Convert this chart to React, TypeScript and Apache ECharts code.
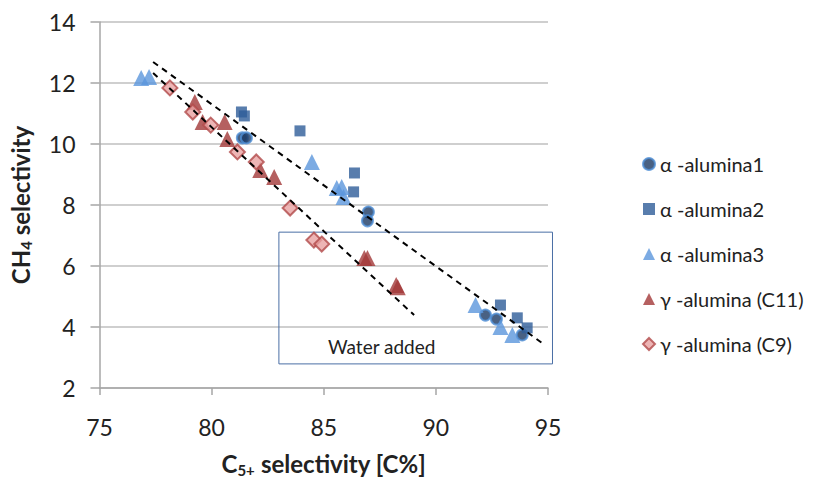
import React, { useEffect, useRef } from "react";
import * as echarts from "echarts";

const alpha1: number[][] = [
  [81.37, 10.2], [81.55, 10.2], [86.99, 7.77], [86.95, 7.48],
  [92.21, 4.39], [92.7, 4.26], [93.85, 3.74],
];
const alpha2: number[][] = [
  [81.33, 11.05], [81.46, 10.92], [83.94, 10.43], [86.37, 9.05],
  [86.33, 8.43], [92.88, 4.72], [93.63, 4.3], [94.07, 3.97],
];
const alpha3: number[][] = [
  [76.86, 12.16], [77.21, 12.2], [84.47, 9.41], [85.58, 8.56], [85.8, 8.59],
  [85.88, 8.26], [91.77, 4.72], [92.88, 4.0], [93.41, 3.74],
];
const gammaC11: number[][] = [
  [79.25, 11.38], [79.6, 10.72], [80.58, 10.72], [80.7, 10.16], [82.17, 9.15],
  [82.79, 8.92], [86.81, 6.26], [86.95, 6.26], [88.23, 5.38], [88.3, 5.3],
];
const gammaC9: number[][] = [
  [78.14, 11.84], [79.16, 11.05], [79.96, 10.62], [81.15, 9.74], [81.99, 9.41],
  [83.5, 7.9], [84.56, 6.85], [84.91, 6.72],
];
const trendUpper: number[][] = [[77.39, 12.69], [94.73, 3.48]];
const trendLower: number[][] = [[77.39, 12.33], [89.03, 4.39]];
const waterBox = { x0: 83.0, y0: 7.11, x1: 95.2, y1: 2.79 };
const seriesNames = [
  "α -alumina1",
  "α -alumina2",
  "α -alumina3",
  "γ -alumina (C11)",
  "γ -alumina (C9)",
];

const FONT = "Lato, 'Open Sans', sans-serif";

export default function App() {
  const ref = useRef<HTMLDivElement>(null);
  useEffect(() => {
    document.body.style.margin = "0";
    const chart = echarts.init(ref.current!, null, { renderer: "svg" });
    const dashed = (data: number[][]) => ({
      type: "line",
      data,
      symbol: "none",
      silent: true,
      z: 5,
      lineStyle: { color: "#000", width: 2, type: [6, 5] },
    });
    const titleRich = {
      b: { fontSize: 24, fontWeight: "bold", color: "#222", fontFamily: FONT },
      s: { fontSize: 15, fontWeight: "bold", color: "#222", fontFamily: FONT, padding: [12, 0, 0, 0] },
    };
    chart.setOption({
      animation: false,
      textStyle: { fontFamily: FONT },
      grid: { left: 97, right: 269, top: 22, bottom: 98 },
      legend: {
        orient: "vertical",
        left: 637,
        top: 149,
        itemGap: 25,
        itemWidth: 12,
        itemHeight: 12,
        data: seriesNames,
        textStyle: { fontSize: 20, color: "#222", fontFamily: FONT },
      },
      xAxis: {
        type: "value",
        min: 75,
        max: 95,
        interval: 5,
        name: "{b|C}{s|5+}{b| selectivity [C%]}",
        nameLocation: "middle",
        nameGap: 62,
        nameTextStyle: { rich: titleRich },
        axisLine: { show: true, lineStyle: { color: "#A6A6A6", width: 1.5 } },
        axisTick: { show: true, length: 7, lineStyle: { color: "#A6A6A6", width: 1.5 } },
        axisLabel: { fontSize: 23, color: "#222", margin: 27, fontFamily: FONT },
        splitLine: { show: false },
      },
      yAxis: {
        type: "value",
        min: 2,
        max: 14,
        interval: 2,
        name: "{b|CH}{s|4}{b| selectivity}",
        nameLocation: "middle",
        nameGap: 66,
        nameTextStyle: { rich: titleRich },
        axisLine: { show: true, lineStyle: { color: "#A6A6A6", width: 1.5 } },
        axisTick: { show: true, length: 9, lineStyle: { color: "#A6A6A6", width: 1.5 } },
        axisLabel: { fontSize: 23, color: "#222", margin: 24, fontFamily: FONT },
        splitLine: { show: true, lineStyle: { color: "#BFBFBF", width: 1.5 } },
      },
      series: [
        {
          name: seriesNames[0],
          type: "scatter",
          data: alpha1,
          symbol: "circle",
          symbolSize: 11,
          itemStyle: { color: "#1C3A64", borderColor: "#4F8FD6", borderWidth: 2 },
        },
        {
          name: seriesNames[1],
          type: "scatter",
          data: alpha2,
          symbol: "rect",
          symbolSize: 11,
          itemStyle: { color: "#2E5D98" },
        },
        {
          name: seriesNames[2],
          type: "scatter",
          data: alpha3,
          symbol: "triangle",
          symbolSize: 16,
          itemStyle: { color: "#5B96DC" },
        },
        {
          name: seriesNames[3],
          type: "scatter",
          data: gammaC11,
          symbol: "triangle",
          symbolSize: 16,
          itemStyle: { color: "#A33838" },
        },
        {
          name: seriesNames[4],
          type: "scatter",
          data: gammaC9,
          symbol: "diamond",
          symbolSize: 15,
          itemStyle: { color: "#E8A3A3", borderColor: "#B24A4A", borderWidth: 2 },
        },
        dashed(trendUpper),
        dashed(trendLower),
      ],
    });
    const p0 = chart.convertToPixel({ gridIndex: 0 }, [waterBox.x0, waterBox.y0]) as number[];
    const p1 = chart.convertToPixel({ gridIndex: 0 }, [waterBox.x1, waterBox.y1]) as number[];
    chart.setOption({
      graphic: [
        {
          type: "rect",
          z: 1,
          silent: true,
          shape: { x: p0[0], y: p0[1], width: p1[0] - p0[0], height: p1[1] - p0[1] },
          style: { fill: "none", stroke: "#4A6FA5", lineWidth: 1 },
        },
        {
          type: "text",
          z: 2,
          silent: true,
          x: (p0[0] + p1[0]) / 2 - 34,
          y: p1[1] - 17,
          style: {
            text: "Water added",
            fontSize: 19,
            fontFamily: FONT,
            fill: "#222",
            align: "center",
            verticalAlign: "middle",
          },
        },
      ],
    });
    return () => chart.dispose();
  }, []);
  return <div ref={ref} style={{ width: 817, height: 486 }} />;
}
